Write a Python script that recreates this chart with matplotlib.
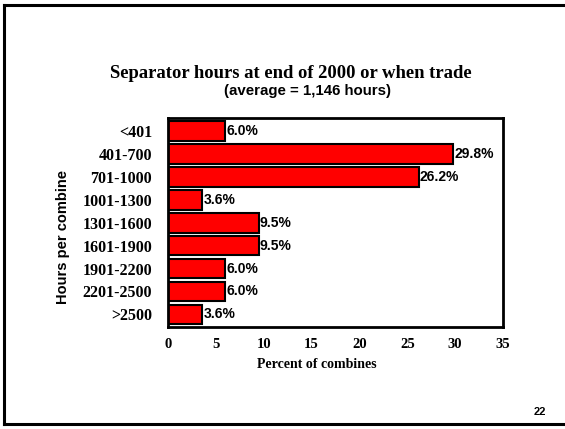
import matplotlib
matplotlib.use('Agg')
import matplotlib.pyplot as plt
from matplotlib.lines import Line2D

# Chart data
categories = ["<401", "401-700", "701-1000", "1001-1300", "1301-1600",
              "1601-1900", "1901-2200", "2201-2500", ">2500"]
percents = [6.0, 29.8, 26.2, 3.6, 9.5, 9.5, 6.0, 6.0, 3.6]
x_ticks = [0, 5, 10, 15, 20, 25, 30, 35]

SERIF = ['Liberation Serif', 'DejaVu Serif']
SANS = ['Liberation Sans', 'DejaVu Sans']

W, H = 565, 429
fig = plt.figure(figsize=(W / 100, H / 100), dpi=100)

# slide frame (left, top, bottom)
frame = dict(color='black', linewidth=2.2, transform=fig.transFigure)
fig.add_artist(Line2D([4 / W, 4 / W], [1 - 5 / H, 1 - 424 / H], **frame))
fig.add_artist(Line2D([4 / W, 1.0], [1 - 5 / H, 1 - 5 / H], **frame))
fig.add_artist(Line2D([4 / W, 1.0], [1 - 424 / H, 1 - 424 / H], **frame))

# plot area
left, right, top, bottom = 168, 503, 118, 327
ax = fig.add_axes([left / W, 1 - bottom / H, (right - left) / W, (bottom - top) / H])

y = list(range(len(categories)))
ax.barh(y, percents, height=0.86, color='#FF0000', edgecolor='black', linewidth=1.5)

for yi, v in zip(y, percents):
    ax.text(v + 0.1, yi, f"{v:.1f}%", va='center', ha='left',
            family=SANS, fontweight='bold', fontsize=10)

ax.set_xlim(0, 35)
ax.set_ylim(len(categories) - 0.45, -0.57)
ax.set_xticks(x_ticks)
ax.set_xticklabels([str(t) for t in x_ticks], family=SERIF, fontweight='bold', fontsize=10.5)
ax.set_yticks(y)
ax.set_yticklabels(categories, family=SERIF, fontweight='bold', fontsize=11.5)
ax.tick_params(axis='both', length=0)
ax.tick_params(axis='x', pad=8)
ax.tick_params(axis='y', pad=11.5)
for s in ax.spines.values():
    s.set_linewidth(2)

# titles and axis labels
fig.text(291 / W, 1 - 73 / H, "Separator hours at end of 2000 or when trade",
         ha='center', va='center', family=SERIF, fontweight='bold', fontsize=13.4)
fig.text(308 / W, 1 - 90.5 / H, "(average = 1,146 hours)",
         ha='center', va='center', family=SANS, fontweight='bold', fontsize=10.8)
fig.text(317 / W, 1 - 364 / H, "Percent of combines",
         ha='center', va='center', family=SERIF, fontweight='bold', fontsize=10)
fig.text(63 / W, 1 - 237 / H, "Hours per combine", rotation=90,
         ha='center', va='center', family=SANS, fontweight='bold', fontsize=10.5)
fig.text(540 / W, 1 - 412 / H, "22",
         ha='center', va='center', family=SANS, fontweight='bold', fontsize=8)

fig.savefig('out.png', dpi=100)
